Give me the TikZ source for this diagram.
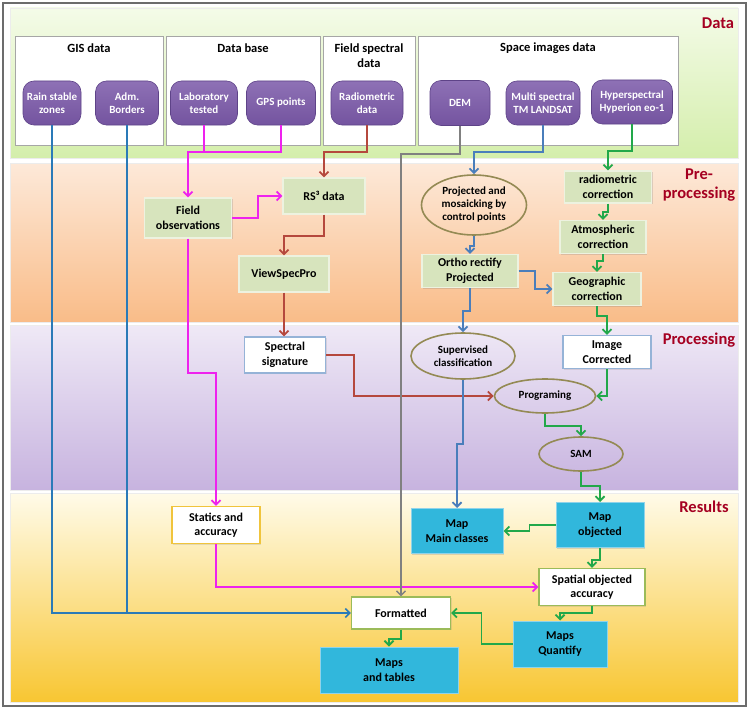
\documentclass[tikz,border=0pt]{standalone}
\usepackage{fontspec}
\setmainfont{Carlito}
\usetikzlibrary{arrows.meta,shapes.geometric,shadows}
\definecolor{purpC}{HTML}{7A58A8}
\definecolor{purpD}{HTML}{5E4388}
\definecolor{lgreen}{HTML}{D7E4BD}
\definecolor{lgreenD}{HTML}{EDF2E0}
\definecolor{cyanC}{HTML}{31B7DC}
\definecolor{cyanD}{HTML}{8FD3EA}
\definecolor{ellD}{HTML}{948A54}
\definecolor{magC}{HTML}{EE22EE}
\definecolor{brnC}{HTML}{B5483D}
\definecolor{gisC}{HTML}{2A7AB8}
\definecolor{stlC}{HTML}{4A7EBB}
\definecolor{grnC}{HTML}{22A84A}
\definecolor{gryC}{HTML}{808080}
\definecolor{titleC}{HTML}{A50021}
\definecolor{sigD}{HTML}{95B3D7}
\definecolor{statD}{HTML}{F0C43C}
\definecolor{okD}{HTML}{9BBB59}
\definecolor{dataT}{HTML}{F4FBE8}
\definecolor{dataB}{HTML}{D4EEAB}
\definecolor{preT}{HTML}{FDE9D9}
\definecolor{preB}{HTML}{F9BC88}
\definecolor{procT}{HTML}{EFE9F6}
\definecolor{procB}{HTML}{C7B3DF}
\definecolor{resT}{HTML}{FFFBE9}
\definecolor{resB}{HTML}{F8C632}
\begin{document}
\begin{tikzpicture}[x=1pt,y=-1pt,
  purp/.style={rounded corners=11pt, top color=purpC!85!white, bottom color=purpC!95!black, draw=purpD, line width=0.6pt, text=white, font=\bfseries\fontsize{11}{13}\selectfont, align=center, inner sep=1pt},
  grp/.style={draw=gray!70, line width=0.9pt, fill=white, anchor=north west, inner sep=0pt},
  grptitle/.style={font=\bfseries\fontsize{12.5}{15}\selectfont, align=center, inner sep=0pt},
  gbox/.style={fill=lgreen, draw=lgreenD, line width=1.2pt, font=\bfseries\fontsize{12}{14.5}\selectfont, align=center, inner sep=1pt, drop shadow={shadow xshift=1pt, shadow yshift=-1pt, opacity=0.25}},
  ell/.style={ellipse, draw=ellD, line width=1.6pt, font=\bfseries\fontsize{11}{13}\selectfont, align=center, inner sep=0pt},
  wbox/.style={fill=white, line width=1.2pt, font=\bfseries\fontsize{12}{14.5}\selectfont, align=center, inner sep=1pt, drop shadow={shadow xshift=1pt, shadow yshift=-1pt, opacity=0.2}},
  cbox/.style={fill=cyanC, draw=cyanD, line width=1pt, font=\bfseries\fontsize{12}{14.5}\selectfont, align=center, inner sep=1pt, drop shadow={shadow xshift=1pt, shadow yshift=-1pt, opacity=0.25}},
  sect/.style={font=\bfseries\fontsize{16.5}{19}\selectfont, text=titleC, align=center, inner sep=0pt},
  tip/.style={-{Straight Barb[length=4.5pt,width=9pt]}},
  mag/.style={draw=magC, line width=1.8pt},
  brn/.style={draw=brnC, line width=1.8pt},
  gis/.style={draw=gisC, line width=1.6pt},
  stl/.style={draw=stlC, line width=1.8pt},
  grn/.style={draw=grnC, line width=1.8pt},
  gry/.style={draw=gryC, line width=1.4pt}
]
\useasboundingbox (0,0) rectangle (750,709);
\fill[white] (0,0) rectangle (750,709);
\draw[gray!85!black, line width=2pt] (3,3) rectangle (746,706);
% bands
\shade[top color=dataT, bottom color=dataB] (10,8) rectangle (738,158);
\shade[top color=preT, bottom color=preB] (10,163) rectangle (738,322);
\shade[top color=procT, bottom color=procB] (10,325) rectangle (738,490);
\shade[top color=resT, bottom color=resB] (10,493) rectangle (738,702);
\draw[white!85!gray, line width=0.8pt] (10,8) rectangle (738,158);
\draw[white!85!gray, line width=0.8pt] (10,163) rectangle (738,322);
\draw[white!85!gray, line width=0.8pt] (10,325) rectangle (738,490);
\draw[white!85!gray, line width=0.8pt] (10,493) rectangle (738,702);
% section labels
\node[sect] (lData) at (718,23) {Data};
\node[sect] (lPre) at (699,185) {Pre-\\processing};
\node[sect] (lProc) at (699,340) {Processing};
\node[sect] (lRes) at (704,507) {Results};
% group boxes
\node[grp, minimum width=148pt, minimum height=109pt] (gGIS) at (15,36) {};
\node[grp, minimum width=154pt, minimum height=109pt] (gDB) at (166,36) {};
\node[grp, minimum width=92pt, minimum height=109pt] (gFS) at (323,36) {};
\node[grp, minimum width=260pt, minimum height=109pt] (gSI) at (418,36) {};
\node[grptitle] (tGIS) at (89,48) {GIS data};
\node[grptitle] (tDB) at (243,48) {Data base};
\node[grptitle] (tFS) at (369,56) {Field spectral\\data};
\node[grptitle] (tSI) at (548,48) {Space images data};
% data nodes
\node[purp, minimum width=58pt, minimum height=44pt] (rain) at (52,103) {Rain stable\\zones};
\node[purp, minimum width=63pt, minimum height=44pt] (adm) at (127,103) {Adm.\\Borders};
\node[purp, minimum width=67pt, minimum height=44pt] (lab) at (204,103) {Laboratory\\tested};
\node[purp, minimum width=69pt, minimum height=44pt] (gps) at (281,103) {GPS points};
\node[purp, minimum width=72pt, minimum height=44pt] (rad) at (367,103) {Radiometric\\data};
\node[purp, minimum width=60pt, minimum height=45pt] (dem) at (460,103) {DEM};
\node[purp, minimum width=74pt, minimum height=44pt] (ms) at (543,103) {Multi spectral\\TM LANDSAT};
\node[purp, minimum width=81pt, minimum height=44pt] (hyp) at (632,102) {Hyperspectral\\Hyperion eo-1};
% pre-processing
\node[gbox, minimum width=87pt, minimum height=40pt] (fobs) at (188,218) {Field\\observations};
\node[gbox, minimum width=82pt, minimum height=36pt] (rs3) at (324,196) {RS³ data};
\node[gbox, minimum width=90pt, minimum height=36pt] (vsp) at (284,274) {ViewSpecPro};
\node[ell, minimum width=105pt, minimum height=60pt] (proj) at (474,205) {Projected and\\mosaicking by\\control points};
\node[gbox, minimum width=87pt, minimum height=32pt] (rc) at (608,187) {radiometric\\correction};
\node[gbox, minimum width=86pt, minimum height=33pt] (atm) at (603,237) {Atmospheric\\correction};
\node[gbox, minimum width=96pt, minimum height=33pt] (ortho) at (470,271) {Ortho rectify\\Projected};
\node[gbox, minimum width=88pt, minimum height=33pt] (geo) at (597,289) {Geographic\\correction};
% processing
\node[wbox, draw=sigD, minimum width=81pt, minimum height=36pt] (spec) at (285,355) {Spectral\\signature};
\node[ell, minimum width=104pt, minimum height=46pt] (sup) at (463,356) {Supervised\\classification};
\node[wbox, draw=sigD, minimum width=88pt, minimum height=33pt] (ic) at (607,352) {Image\\Corrected};
\node[ell, minimum width=101pt, minimum height=34pt] (prog) at (545,396) {Programing};
\node[ell, minimum width=84pt, minimum height=34pt] (sam) at (581,454) {SAM};
% results
\node[wbox, draw=statD, minimum width=88pt, minimum height=37pt] (stat) at (216,525) {Statics and\\accuracy};
\node[cbox, minimum width=92pt, minimum height=45pt] (mmc) at (457,531) {Map\\Main classes};
\node[cbox, minimum width=88pt, minimum height=45pt] (mo) at (600,525) {Map\\objected};
\node[wbox, draw=okD, minimum width=106pt, minimum height=37pt] (spat) at (592,587) {Spatial objected\\accuracy};
\node[wbox, draw=okD, minimum width=99pt, minimum height=32pt] (fmt) at (401,613) {Formatted};
\node[cbox, minimum width=94pt, minimum height=46pt] (mq) at (560,644) {Maps\\Quantify};
\node[cbox, minimum width=138pt, minimum height=46pt] (mt) at (389,670) {Maps\\and tables};
% connectors: GIS (blue)
\draw[gis, tip] (rain.south) |- (fmt.west);
\draw[gis] (adm.south) -- (adm.south |- fmt.west);
% magenta
\coordinate (m1) at (188,152);
\draw[mag] (lab.south) -- (lab.south |- m1);
\draw[mag, tip] (gps.south) |- (m1) -- (fobs.north);
\draw[mag, tip] (fobs.east) -- ++(26,0) |- (rs3.west);
\draw[mag, tip] (fobs.south) -- ++(0,134) -| (stat.north);
\draw[mag, tip] (stat.south) |- (spat.west);
% brown
\draw[brn, tip] (rad.south) -- ++(0,27) -| (rs3.north);
\draw[brn, tip] (rs3.south) -- ++(0,21) -| (vsp.north);
\draw[brn, tip] (vsp.south) -- (vsp.south |- spec.north);
\draw[brn, tip] (spec.east) -- ++(28,0) |- (prog.west);
% gray
\draw[gry, tip] (dem.south) -- ++(0,28) -| (fmt.north);
% steel blue
\draw[stl, tip] (ms.south) -- ++(0,27) -| (proj.north);
\draw[stl, tip] (proj.south) -- ++(0,10) -| (ortho.north);
\draw[stl, tip] (ortho.east) -- ++(16,0) |- (geo.west);
\draw[stl, tip] (ortho.south) -- ++(0,23) -| (sup.north);
\draw[stl, tip] (sup.south) -- ++(0,64) -| (mmc.north);
% green
\draw[grn, tip] (hyp.south) -- ++(0,27) -| (rc.north);
\draw[grn, tip] (rc.south) -- ++(0,8) -| (atm.north);
\draw[grn, tip] (atm.south) -- ++(0,7) -| (geo.north);
\draw[grn, tip] (geo.south) -- ++(0,10) -| (ic.north);
\draw[grn, tip] (ic.south) |- (prog.east);
\draw[grn, tip] (prog.south) -- ++(0,12) -| (sam.north);
\draw[grn, tip] (sam.south) -- ++(0,14) -| (mo.north);
\draw[grn, tip] (mo.west) -- ++(-26,0) |- (mmc.east);
\draw[grn, tip] (mo.south) -- ++(0,12) -| (spat.north);
\draw[grn, tip] (spat.south) -- ++(0,7) -| (mq.north);
\draw[grn, tip] (mq.west) -- ++(-31,0) |- (fmt.east);
\draw[grn, tip] (fmt.south) -- ++(0,9) -| (mt.north);
\end{tikzpicture}
\end{document}
